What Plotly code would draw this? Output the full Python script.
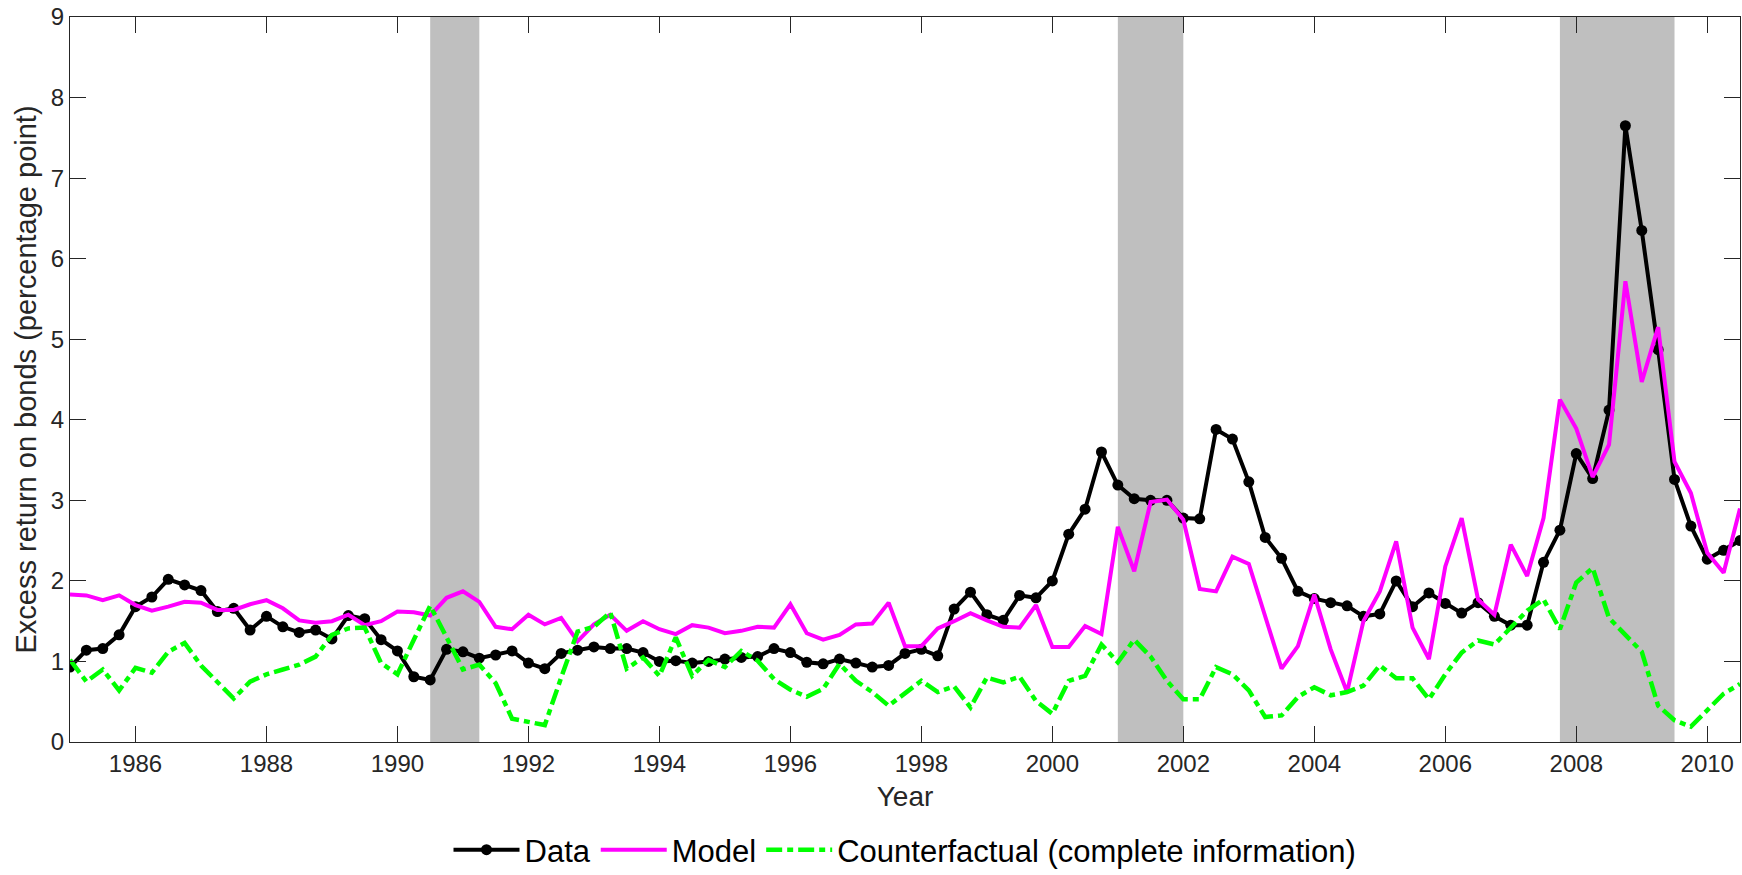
import plotly.graph_objects as go

# ---------------- data (quarterly, 1985Q1 .. 2010Q3) ----------------
start_year = 1985
data_vals = [
    0.93, 1.14, 1.16, 1.33,
    1.68, 1.80, 2.02, 1.95,
    1.88, 1.62, 1.66, 1.39,
    1.56, 1.43, 1.36, 1.39,
    1.28, 1.57, 1.53, 1.27,
    1.13, 0.81, 0.77, 1.15,
    1.12, 1.04, 1.08, 1.13,
    0.98, 0.91, 1.10, 1.14,
    1.18, 1.16, 1.16, 1.11,
    1.00, 1.01, 0.98, 1.00,
    1.03, 1.05, 1.06, 1.16,
    1.11, 0.99, 0.97, 1.03,
    0.98, 0.93, 0.95, 1.10,
    1.15, 1.07, 1.65, 1.86,
    1.58, 1.51, 1.82, 1.79,
    2.00, 2.58, 2.89, 3.60,
    3.19, 3.02, 3.00, 3.00,
    2.78, 2.77, 3.88, 3.76,
    3.23, 2.54, 2.28, 1.87,
    1.78, 1.73, 1.69, 1.56,
    1.59, 2.00, 1.68, 1.85,
    1.72, 1.60, 1.73, 1.56,
    1.45, 1.45, 2.23, 2.63,
    3.58, 3.27, 4.12, 7.65,
    6.35, 4.87, 3.26, 2.68,
    2.27, 2.38, 2.50,
]

model_vals = [
    1.83, 1.82, 1.76, 1.82,
    1.70, 1.63, 1.68, 1.74,
    1.73, 1.64, 1.64, 1.71,
    1.76, 1.66, 1.51, 1.48,
    1.50, 1.58, 1.45, 1.50,
    1.62, 1.61, 1.57, 1.79,
    1.87, 1.74, 1.43, 1.40,
    1.58, 1.46, 1.54, 1.25,
    1.46, 1.58, 1.38, 1.50,
    1.40, 1.34, 1.45, 1.42,
    1.35, 1.38, 1.43, 1.42,
    1.71, 1.35, 1.27, 1.33,
    1.46, 1.47, 1.73, 1.19,
    1.19, 1.41, 1.50, 1.60,
    1.51, 1.43, 1.42, 1.70,
    1.18, 1.18, 1.44, 1.34,
    2.67, 2.12, 2.98, 3.01,
    2.76, 1.90, 1.87, 2.30,
    2.21, 1.56, 0.91, 1.19,
    1.83, 1.15, 0.62, 1.50,
    1.87, 2.49, 1.42, 1.03,
    2.18, 2.78, 1.77, 1.58,
    2.45, 2.06, 2.78, 4.25,
    3.89, 3.29, 3.69, 5.72,
    4.47, 5.15, 3.48, 3.09,
    2.35, 2.10, 2.90,
]

counterfactual_vals = [
    1.02, 0.75, 0.90, 0.64,
    0.92, 0.86, 1.12, 1.23,
    0.95, 0.75, 0.54, 0.75,
    0.84, 0.90, 0.96, 1.06,
    1.33, 1.41, 1.42, 0.98,
    0.84, 1.27, 1.69, 1.30,
    0.90, 0.96, 0.73, 0.29,
    0.25, 0.21, 0.80, 1.37,
    1.43, 1.61, 0.91, 1.05,
    0.82, 1.30, 0.82, 1.02,
    0.93, 1.13, 1.01, 0.78,
    0.65, 0.56, 0.66, 0.97,
    0.76, 0.62, 0.45, 0.60,
    0.76, 0.62, 0.69, 0.43,
    0.80, 0.74, 0.81, 0.51,
    0.35, 0.76, 0.82, 1.21,
    0.99, 1.27, 1.06, 0.76,
    0.53, 0.53, 0.93, 0.84,
    0.64, 0.31, 0.33, 0.56,
    0.68, 0.58, 0.62, 0.70,
    0.95, 0.79, 0.79, 0.53,
    0.84, 1.11, 1.26, 1.21,
    1.42, 1.63, 1.77, 1.40,
    1.98, 2.16, 1.54, 1.32,
    1.12, 0.45, 0.27, 0.19,
    0.39, 0.60, 0.72,
]

recession_starts = [1990.5, 2001.0, 2007.75]
recession_ends = [1991.25, 2002.0, 2009.5]

x_ticks = [1986, 1988, 1990, 1992, 1994, 1996, 1998, 2000, 2002, 2004, 2006, 2008, 2010]
y_ticks = [0, 1, 2, 3, 4, 5, 6, 7, 8, 9]

years = [start_year + 0.25 * i for i in range(len(data_vals))]

# ---------------- figure ----------------
axis_color = "#262626"
font_family = "Liberation Sans, Arial, Helvetica, sans-serif"

fig = go.Figure()

fig.add_trace(go.Scatter(
    x=years, y=data_vals, name="Data", mode="lines+markers",
    line=dict(color="black", width=4),
    marker=dict(color="black", size=11, symbol="circle"),
))
fig.add_trace(go.Scatter(
    x=years, y=model_vals, name="Model", mode="lines",
    line=dict(color="#ff00ff", width=4),
))
fig.add_trace(go.Scatter(
    x=years, y=counterfactual_vals, name="Counterfactual (complete information)", mode="lines",
    line=dict(color="#00ff00", width=4.5, dash="16px,5px,6px,5px"),
))

for s, e in zip(recession_starts, recession_ends):
    fig.add_shape(type="rect", xref="x", yref="paper", x0=s, x1=e, y0=0, y1=1,
                  fillcolor="#bfbfbf", line=dict(width=0), layer="below")

fig.update_layout(
    width=1742, height=875,
    margin=dict(l=70, r=2, t=17, b=133),
    paper_bgcolor="white", plot_bgcolor="white",
    font=dict(family=font_family, color=axis_color, size=24),
    showlegend=True,
    legend=dict(orientation="h", x=0.5, xanchor="center",
                yref="container", y=1 - 850 / 875, yanchor="middle",
                font=dict(size=31, color="black"), itemwidth=66,
                bgcolor="rgba(0,0,0,0)", traceorder="normal"),
)

fig.update_xaxes(
    range=[1985, 2010.5], tickmode="array", tickvals=x_ticks,
    ticktext=[str(t) for t in x_ticks],
    ticks="inside", ticklen=16, tickwidth=1, tickcolor=axis_color,
    showline=True, linecolor=axis_color, linewidth=1, mirror="ticks",
    showgrid=False, zeroline=False,
    tickfont=dict(size=24, color=axis_color),
    title=dict(text="Year", font=dict(size=28, color=axis_color), standoff=10),
)
fig.update_yaxes(
    range=[0, 9], tickmode="array", tickvals=y_ticks,
    ticktext=[str(t) for t in y_ticks],
    ticks="inside", ticklen=16, tickwidth=1, tickcolor=axis_color,
    showline=True, linecolor=axis_color, linewidth=1, mirror="ticks",
    showgrid=False, zeroline=False,
    tickfont=dict(size=24, color=axis_color),
    title=dict(text="Excess return on bonds (percentage point)", font=dict(size=29, color=axis_color), standoff=5),
)

fig.write_html("out.html")
